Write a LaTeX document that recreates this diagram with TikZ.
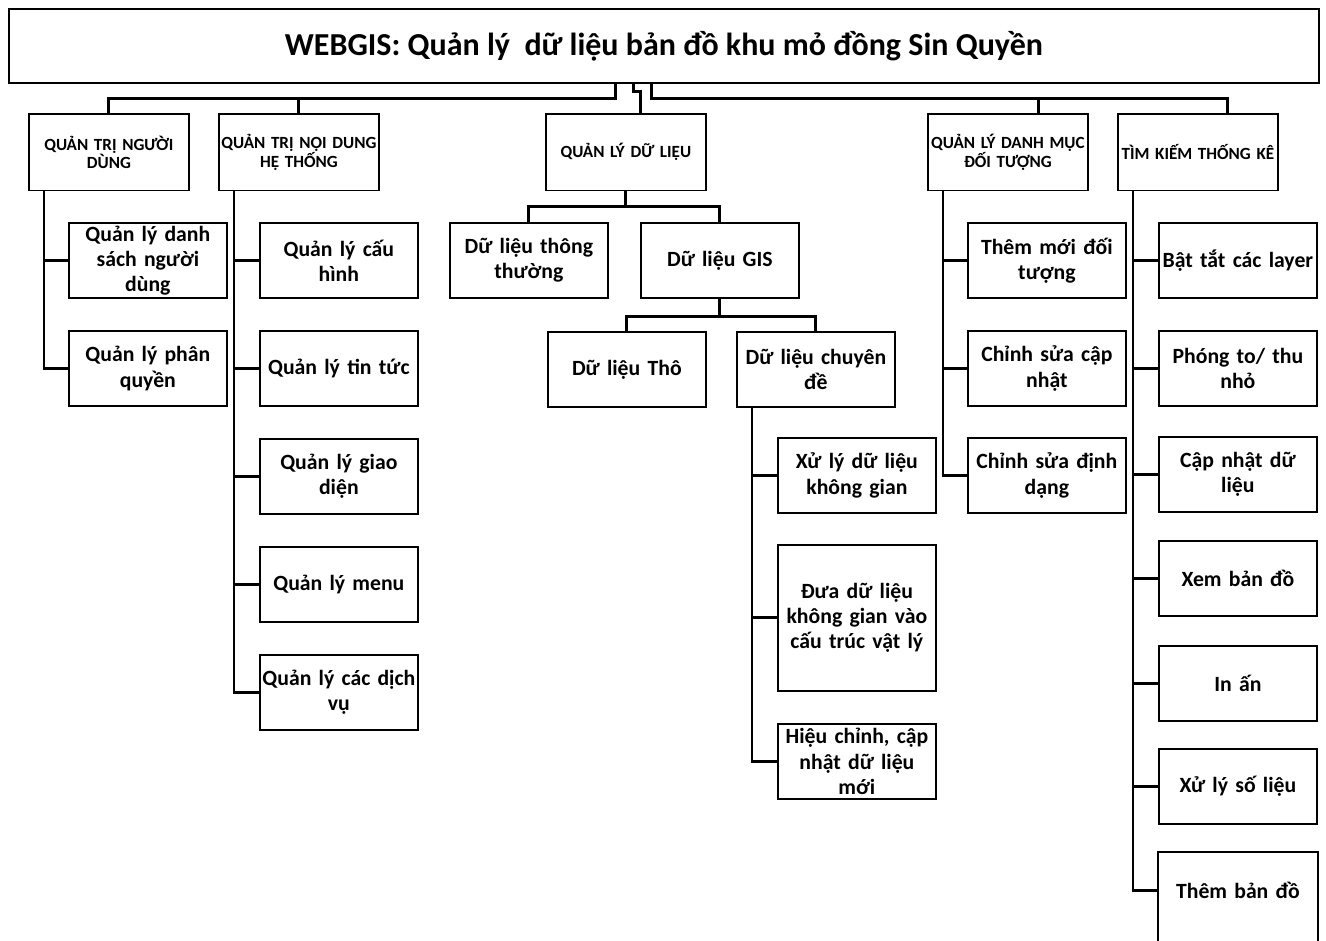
\documentclass[tikz,border=0pt]{standalone}
\usepackage{fontspec}
\setmainfont{Carlito}

\begin{document}
\begin{tikzpicture}[x=0.75pt,y=-0.75pt,
    box/.style={draw, line width=1.3pt, anchor=north west, minimum width=118.5pt,
      minimum height=56.5pt, text width=117pt, inner sep=0pt, align=center,
      font=\fontsize{16.3}{19}\selectfont\bfseries},
    headbox/.style={box, minimum width=120pt, minimum height=57.5pt, text width=120pt,
      font=\fontsize{12.8}{13.8}\selectfont\bfseries},
    link/.style={line width=2.2pt}]
  \useasboundingbox (0,0) rectangle (1326,940);

  % tieu de
  \node[draw, line width=1.3pt, anchor=north west, minimum width=982.5pt, minimum height=55.5pt,
    font=\fontsize{24}{28}\selectfont\bfseries] (title) at (8,8)
    {WEBGIS: Quản lý\ \ dữ liệu bản đồ khu mỏ đồng Sin Quyền};

  \node[headbox] (h1) at (28,113) {QUẢN TRỊ NGƯỜI\\DÙNG};
  \node[headbox] (h2) at (218,113) {QUẢN TRỊ NỘI DUNG\\HỆ THỐNG};
  \node[headbox] (h3) at (545,113) {QUẢN LÝ DỮ LIỆU};
  \node[headbox] (h4) at (927,113) {QUẢN LÝ DANH MỤC\\ĐỐI TƯỢNG};
  \node[headbox] (h5) at (1117,113) {TÌM KIẾM THỐNG KÊ};

  \draw[link] ([xshift=-36pt]title.south) -- ++(0,15) -| (h1.north);
  \draw[link] ([xshift=-36pt]title.south) ++(0,15) -| (h2.north);
  \draw[link] ([xshift=-22.5pt]title.south) -- ++(0,8) -| ([xshift=11pt]h3.north);
  \draw[link] ([xshift=-9pt]title.south) -- ++(0,15) -| ([xshift=22.5pt]h5.north);
  \draw[link] ([xshift=-9pt]title.south) ++(0,15) -| ([xshift=23pt]h4.north);

  % quan tri nguoi dung
  \node[box] (a1) at (68,222) {Quản lý danh\\sách người\\dùng};
  \node[box] (a2) at (68,330) {Quản lý phân\\quyền};
  \foreach \j in {1,2}
    \draw[link] ([xshift=12pt]h1.south west) |- (a\j.west);

  % quan tri noi dung
  \node[box] (b1) at (259,222) {Quản lý cấu\\hình};
  \node[box] (b2) at (259,330) {Quản lý tin tức};
  \node[box] (b3) at (259,438) {Quản lý giao\\diện};
  \node[box] (b4) at (259,546) {Quản lý menu};
  \node[box] (b5) at (259,654) {Quản lý các dịch\\vụ};
  \foreach \j in {1,...,5}
    \draw[link] ([xshift=12pt]h2.south west) |- (b\j.west);

  % quan ly du lieu
  \node[box] (d1) at (449,222) {Dữ liệu thông\\thường};
  \node[box] (d2) at (640,222) {Dữ liệu GIS};
  \node[box] (d3) at (547,331) {Dữ liệu Thô};
  \node[box] (d4) at (736,331) {Dữ liệu chuyên\\đề};
  \draw[link] (h3.south) -- ++(0,15) -| (d1.north);
  \draw[link] (h3.south) ++(0,15) -| (d2.north);
  \draw[link] (d2.south) -- ++(0,17) -| (d3.north);
  \draw[link] (d2.south) ++(0,17) -| (d4.north);

  \node[box] (x1) at (777,437) {Xử lý dữ liệu\\không gian};
  \node[box, minimum height=109.5pt] (x2) at (777,544) {Đưa dữ liệu\\không gian vào\\cấu trúc vật lý};
  \node[box] (x3) at (777,723) {Hiệu chỉnh, cập\\nhật dữ liệu\\mới};
  \foreach \j in {1,2,3}
    \draw[link] ([xshift=12pt]d4.south west) |- (x\j.west);

  % danh muc doi tuong
  \node[box] (m1) at (967,222) {Thêm mới đối\\tượng};
  \node[box] (m2) at (967,330) {Chỉnh sửa cập\\nhật};
  \node[box] (m3) at (967,437) {Chỉnh sửa định\\dạng};
  \foreach \j in {1,2,3}
    \draw[link] ([xshift=12pt]h4.south west) |- (m\j.west);

  % tim kiem thong ke
  \node[box] (t1) at (1158,222) {Bật tắt các layer};
  \node[box] (t2) at (1158,330) {Phóng to/ thu\\nhỏ};
  \node[box] (t3) at (1158,436) {Cập nhật dữ\\liệu};
  \node[box] (t4) at (1158,540) {Xem bản đồ};
  \node[box] (t5) at (1158,645) {In ấn};
  \node[box] (t6) at (1158,748) {Xử lý số liệu};
  \node[box, draw=none] (t7) at (1158,852) {Thêm bản đồ};
  \draw[line width=1.3pt] ([yshift=-30pt]t7.south west) |- (t7.north east) -- ([yshift=-30pt]t7.south east);
  \foreach \j in {1,...,7}
    \draw[link] ([xshift=12pt]h5.south west) |- (t\j.west);
\end{tikzpicture}
\end{document}
